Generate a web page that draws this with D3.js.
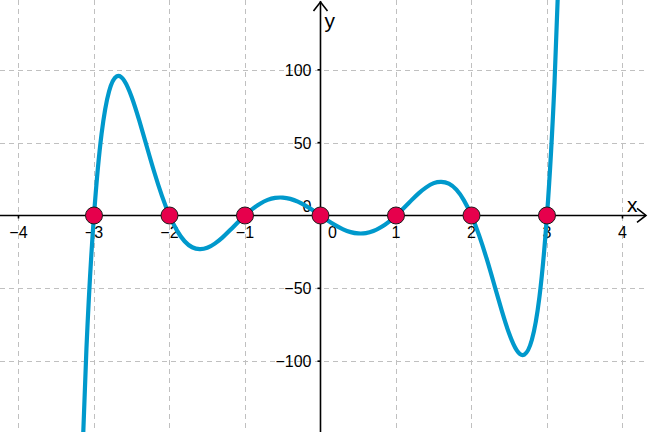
<!DOCTYPE html>
<html>
<head>
<meta charset="utf-8">
<script src="https://cdn.jsdelivr.net/npm/d3@7"></script>
<style>
  html, body { margin: 0; padding: 0; background: #fff; }
  svg { display: block; font-family: "Liberation Sans", Arial, sans-serif; }
</style>
</head>
<body>
<script>
let curveX = [-3.2, -3.1, -3.0, -2.9, -2.8, -2.7, -2.6, -2.5, -2.4, -2.3, -2.2, -2.1, -2.0,
              -1.9, -1.8, -1.7, -1.6, -1.5, -1.4, -1.3, -1.2, -1.1, -1.0,
              -0.9, -0.8, -0.7, -0.6, -0.5, -0.4, -0.3, -0.2, -0.1, 0,
              0.1, 0.2, 0.3, 0.4, 0.5, 0.6, 0.7, 0.8, 0.9, 1.0,
              1.1, 1.2, 1.3, 1.4, 1.5, 1.6, 1.7, 1.8, 1.9, 2.0,
              2.1, 2.2, 2.3, 2.4, 2.5, 2.6, 2.7, 2.8, 2.9, 3.0, 3.1, 3.2];
let curveY = [-228.8, -91.3, 0, 55.9, 85.3, 95.5, 92.6, 81.2, 65.1, 47.2, 29.5, 13.5, 0,
              -10.4, -17.7, -21.8, -23.1, -22.2, -19.3, -15.2, -10.2, -5.0, 0,
              4.5, 8.1, 10.7, 12.1, 12.3, 11.4, 9.5, 6.8, 3.6, 0,
              -3.6, -6.8, -9.5, -11.4, -12.3, -12.1, -10.7, -8.1, -4.5, 0,
              5.0, 10.2, 15.2, 19.3, 22.2, 23.1, 21.8, 17.7, 10.4, 0,
              -13.5, -29.5, -47.2, -65.1, -81.2, -92.6, -95.5, -85.3, -55.9, 0, 91.3, 228.8];

let rootsX = [-3, -2, -1, 0, 1, 2, 3];

let xTicks = [-4, -3, -2, -1, 0, 1, 2, 3, 4];
let yTicks = [-100, -50, 0, 50, 100];

let opts = {
    width: 648,
    height: 432
};

let svg = d3.select("body").append("svg")
            .attr("width", opts.width)
            .attr("height", opts.height);

let x = d3.scaleLinear().domain([-4.245, 4.338]).range([0, opts.width]);
let y = d3.scaleLinear().domain([-148.6, 147.9]).range([opts.height, 0]);

let x0 = x(0), y0 = y(0);

// grid
let grid = svg.append("g")
    .attr("stroke", "#c0c0c0")
    .attr("stroke-width", 1)
    .attr("stroke-dasharray", "5,4");

grid.selectAll("line.v")
    .data(xTicks.filter(d => d !== 0))
    .enter().append("line")
    .attr("class", "v")
    .attr("x1", d => Math.round(x(d)) + 0.5).attr("x2", d => Math.round(x(d)) + 0.5)
    .attr("y1", 0).attr("y2", opts.height);

grid.selectAll("line.h")
    .data(yTicks.filter(d => d !== 0))
    .enter().append("line")
    .attr("class", "h")
    .attr("y1", d => Math.round(y(d)) + 0.5).attr("y2", d => Math.round(y(d)) + 0.5)
    .attr("x1", 0).attr("x2", opts.width);

// axes
let axes = svg.append("g").attr("stroke", "#000").attr("stroke-width", 1.6).attr("fill", "none");

axes.append("line").attr("x1", 0).attr("x2", opts.width - 2).attr("y1", y0).attr("y2", y0);
axes.append("line").attr("x1", x0).attr("x2", x0).attr("y1", 1).attr("y2", opts.height);

// arrow heads
axes.append("path").attr("d", `M${opts.width - 11},${y0 - 7} L${opts.width - 2},${y0} L${opts.width - 11},${y0 + 7}`);
axes.append("path").attr("d", `M${x0 - 7},${11} L${x0},${2} L${x0 + 7},${11}`);

// tick marks
axes.selectAll("line.xt")
    .data(xTicks.filter(d => d !== 0))
    .enter().append("line")
    .attr("x1", d => x(d)).attr("x2", d => x(d))
    .attr("y1", y0).attr("y2", y0 + 3);

axes.selectAll("line.yt")
    .data(yTicks.filter(d => d !== 0))
    .enter().append("line")
    .attr("y1", d => y(d)).attr("y2", d => y(d))
    .attr("x1", x0 - 3).attr("x2", x0);

// tick labels
let fmt = d => d < 0 ? "\u2212" + Math.abs(d) : String(d);

svg.append("g").selectAll("text")
    .data(xTicks)
    .enter().append("text")
    .attr("x", d => d === 0 ? x(d) + 12 : x(d))
    .attr("y", y0 + 23)
    .attr("text-anchor", "middle")
    .attr("font-size", 16)
    .attr("fill", "#000")
    .text(fmt);

svg.append("g").selectAll("text")
    .data(yTicks)
    .enter().append("text")
    .attr("x", x0 - 9)
    .attr("y", d => d === 0 ? y0 - 3 : y(d) + 6)
    .attr("text-anchor", "end")
    .attr("font-size", 16)
    .attr("fill", "#000")
    .text(fmt);

// axis names
svg.append("text").attr("x", opts.width - 21).attr("y", y0 - 3)
    .attr("font-size", 21).attr("fill", "#000").text("x");
svg.append("text").attr("x", x0 + 4).attr("y", 28)
    .attr("font-size", 21).attr("fill", "#000").text("y");

// curve
svg.append("clipPath").attr("id", "plotClip")
    .append("rect").attr("width", opts.width).attr("height", opts.height);

let line = d3.line()
    .x((d, i) => x(curveX[i]))
    .y((d, i) => y(curveY[i]))
    .curve(d3.curveNatural);

svg.append("path")
    .attr("clip-path", "url(#plotClip)")
    .attr("d", line(curveX))
    .attr("fill", "none")
    .attr("stroke", "#0099cc")
    .attr("stroke-width", 4.2)
    .attr("stroke-linejoin", "round");

// root points
svg.append("g").selectAll("circle")
    .data(rootsX)
    .enter().append("circle")
    .attr("cx", d => x(d))
    .attr("cy", y0)
    .attr("r", 8.5)
    .attr("fill", "#e6004c")
    .attr("stroke", "#1a1a1a")
    .attr("stroke-width", 1);
</script>
</body>
</html>
